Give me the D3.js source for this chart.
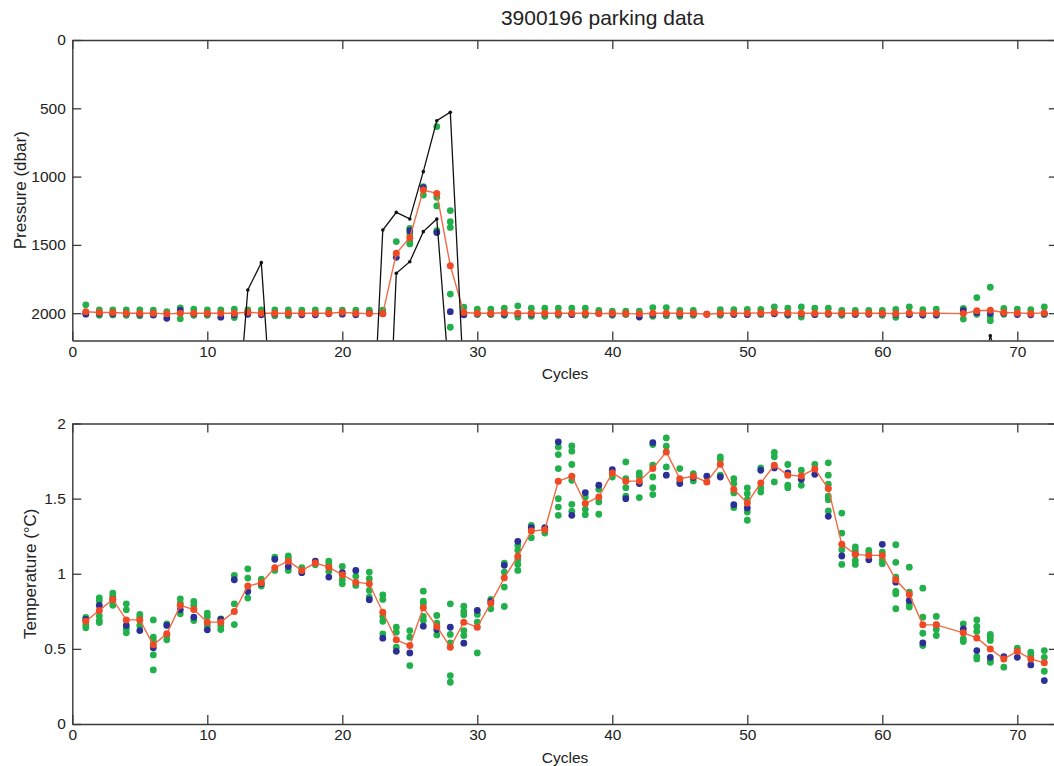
<!DOCTYPE html>
<html>
<head>
<meta charset="utf-8">
<script src="https://cdn.jsdelivr.net/npm/d3@7"></script>
<style>
  html, body { margin: 0; padding: 0; background: #fff; }
  svg { display: block; font-family: "Liberation Sans", Arial, Helvetica, sans-serif; }
  .tick text { fill: #222; }
</style>
</head>
<body>
<svg id="chart" width="1054" height="766"></svg>
<script>
// Profiling float 3900196: parking pressure and temperature per cycle
const cycles = [1,2,3,4,5,6,7,8,9,10,11,12,13,14,15,16,17,18,19,20,21,22,23,24,25,26,27,28,29,30,
  31,32,33,34,35,36,37,38,39,40,41,42,43,44,45,46,47,48,49,50,51,52,53,54,55,56,57,58,59,60,
  61,62,63,64,66,67,68,69,70,71,72];

// Pressure (dbar): mean (red), reference sample (blue), other samples (green)
const presMean = [1990,1995,1995,2000,2000,2000,2005,2000,2000,2000,2000,2000,1993,2000,2000,2000,2000,2000,2000,1993,
  2000,2003,2003,1562,1447,1098,1123,1652,1995,2000,2000,1997,
  2000,2000,2000,2000,2000,2000,2003,2000,2003,2005,2000,2000,2000,2000,2008,2000,2000,2000,1998,1995,1998,2000,2000,2000,
  2000,2000,2000,2000,2003,1998,2000,2000,
  2003,1982,1979,1995,1998,2002,1998];
const presFirst = [2007,2003,2005,2005,2008,2013,2037,1980,2005,2005,2029,2012,2008,2012,2005,2005,2012,2012,2005,2007,
  2012,2000,2005,1591,1396,1081,1410,1989,2012,2005,2005,2008,
  2005,2008,2005,2005,2010,2005,2003,2008,2005,2028,2010,2005,2008,2005,2008,2005,2008,2010,2003,2005,2008,2005,2010,2005,
  2005,2008,2008,2005,2008,2010,2012,2012,
  1982,1995,2001,2000,2010,2012,2005];
const presOthers = [[1939,2000],[1976,2015],[1976,2013],[1976,2015],[1976,2018],[1978,2013],[1988],[1961,2041],[1971,2015],[1976,2015],
  [1976],[1971,2032],[1976,2000],[1976],[1976,2018],[1976,2018],[1978],[1976,2003],[1978],[1978],
  [1978],[1978],[1978],[1476],[1379,1420,1476,1493],[1074,1135],[634,1152,1215,1396],[1249,1330,1372,1860,2103],[1956,2010],[1971,2010],
  [1971,2010],[1964,2015],[1946,2028],[1964,2023],[1964,2023],[1964,2015],[1964,2010],[1964,2015],[1980],[1985,2015],
  [1985,2010],[1985],[1959,2023],[1959,2018],[1979,2023],[1979,2015],[],[1974,2015],[1974,2010],[1972,2010],
  [1972,2010],[1954,2000],[1964,2015],[1954,2028],[1964,2010],[1964,2010],[1979,2015],[1979,2010],[1979],[1979,2015],
  [1973,2030],[1954,2010],[1974,2015],[1970,2015],
  [1965,2043],[1886,2008],[1810,2025,2055],[1965,2008],[1970],[1975],[1954,2010]];

// Pressure envelope (black): shallowest and deepest parking pressure
const envTopCycles = [12,13,14,15,22,23,24,25,26,27,28,29,67,68,69];
const envTopPres   = [3060,1830,1630,3060,3410,1391,1262,1310,964,591,529,2520,2600,2165,2500];
const envBotCycles = [23,24,25,26,27,28];
const envBotPres   = [3950,1708,1623,1403,1310,2580];

// Temperature (°C)
const tempMean = [0.684,0.756,0.829,0.693,0.693,0.527,0.600,0.789,0.762,0.678,0.678,0.749,0.918,0.940,1.040,1.084,1.022,1.071,1.044,0.993,
  0.944,0.933,0.744,0.560,0.522,0.773,0.649,0.511,0.678,0.644,0.804,0.973,1.116,1.284,1.293,1.616,1.649,1.467,1.511,1.671,
  1.616,1.618,1.700,1.811,1.633,1.649,1.611,1.729,1.560,1.471,1.604,1.722,1.656,1.651,1.698,1.567,1.196,1.129,1.122,1.122,
  0.960,0.862,0.660,0.660,
  0.607,0.573,0.500,0.433,0.484,0.433,0.407];
const tempFirst = [0.696,0.789,0.830,0.656,0.622,0.507,0.656,0.760,0.711,0.627,0.696,0.960,0.882,0.933,1.096,1.049,1.007,1.084,0.978,1.007,
  1.022,0.827,0.571,0.484,0.473,0.651,0.629,0.644,0.538,0.756,0.816,1.056,1.216,1.307,1.307,1.878,1.389,1.540,1.589,1.693,
  1.500,1.600,1.873,1.656,1.600,1.640,1.649,1.644,1.460,1.438,1.689,1.704,1.671,1.629,1.662,1.382,1.118,1.130,1.093,1.196,
  0.944,0.822,0.540,0.660,
  0.633,0.489,0.444,0.449,0.444,0.393,0.289];
const tempOthers = [[0.71,0.66,0.64],[0.84,0.82,0.72,0.69,0.675],[0.871,0.85,0.81,0.79],[0.80,0.76,0.633,0.607],[0.729,0.711,0.656],
  [0.693,0.578,0.556,0.46,0.36],[0.667,0.589,0.56],[0.833,0.804,0.733],[0.816,0.789,0.689],[0.738,0.716,0.656],
  [0.70,0.656,0.629],[0.989,0.80,0.662],[1.033,0.971,0.838],[0.964,0.918],[1.111,1.022],
  [1.118,1.10,1.022],[1.04],[1.06],[1.084,1.062,1.016],[1.049,0.96,0.933],
  [0.984,0.922],[1.011,0.967,0.889,0.844],[0.86,0.829,0.716,0.684,0.60],[0.644,0.611,0.511],[0.622,0.578,0.389],
  [0.884,0.818,0.80,0.716,0.689],[0.722,0.671,0.593],[0.80,0.596,0.54,0.322,0.278],[0.784,0.749,0.727,0.622,0.589],[0.729,0.678,0.473],
  [0.829,0.767],[1.071,1.011,0.911,0.782],[1.189,1.156,1.093,1.062,1.022],[1.322,1.24],[1.271],
  [1.844,1.793,1.70,1.50,1.444,1.389],[1.851,1.816,1.727,1.622,1.462,1.416],[1.511,1.429,1.393],[1.562,1.478,1.396],[1.644],
  [1.744,1.633,1.573,1.516],[1.671,1.649,1.507],[1.86,1.722,1.644,1.573,1.527],[1.904,1.849,1.711],[1.70,1.618],
  [1.667,1.618],[],[1.778,1.76,1.656],[1.633,1.60,1.538,1.44],[1.571,1.533,1.493,1.411,1.356],
  [1.704,1.573,1.544],[1.807,1.778,1.611],[1.727,1.589,1.573],[1.689,1.589],[1.727],
  [1.738,1.656,1.596,1.516,1.493,1.418],[1.404,1.271,1.16,1.062],[1.178,1.156,1.089,1.062],[1.156,1.138],[1.144,1.093,1.067],
  [1.193,1.076,0.978,0.882,0.867,0.767],[1.044,0.878,0.796,0.778],[0.904,0.711,0.604,0.522],[0.716,0.629,0.589],
  [0.667,0.567,0.549],[0.693,0.649,0.616,0.449,0.433],[0.596,0.578,0.556,0.422,0.411],[0.378],[0.504],[0.478,0.456],[0.489,0.444,0.351]];

const xTicks = [0,10,20,30,40,50,60,70];
const presTicks = [0,500,1000,1500,2000];
const tempTicks = [0,0.5,1,1.5,2];

const COL_OTHER = "#22b04b", COL_FIRST = "#2b2f96", COL_MEAN = "#f04a24",
      COL_LINE = "#f36a45", COL_AXIS = "#3a3a3a";

const svg = d3.select("#chart");
const X0 = 72.3, X1 = 1057.8;
const x = d3.scaleLinear().domain([0, 73]).range([X0, X1]);

const panels = [
  { id: "p", y: d3.scaleLinear().domain([0, 2200]).range([40, 340.5]), ticks: presTicks,
    fmt: d3.format("d"), label: "Pressure (dbar)", labelX: 20,
    mean: presMean, first: presFirst, others: presOthers },
  { id: "t", y: d3.scaleLinear().domain([0, 2]).range([724, 423.5]), ticks: tempTicks,
    fmt: d => d3.format("")(d), label: "Temperature (°C)", labelX: 30,
    mean: tempMean, first: tempFirst, others: tempOthers }
];

panels.forEach(P => {
  const yTop = d3.min(P.y.range()), yBot = d3.max(P.y.range());
  const g = svg.append("g");

  g.append("clipPath").attr("id", "clip-" + P.id)
    .append("rect").attr("x", X0).attr("y", yTop).attr("width", X1 - X0).attr("height", yBot - yTop);

  const plot = g.append("g").attr("clip-path", `url(#clip-${P.id})`);

  // other samples
  const pts = [];
  cycles.forEach((c, i) => P.others[i].forEach(v => pts.push([c, v])));
  plot.append("g").selectAll("circle").data(pts).join("circle")
    .attr("cx", d => x(d[0])).attr("cy", d => P.y(d[1])).attr("r", 3.4).attr("fill", COL_OTHER);

  // reference sample
  plot.append("g").selectAll("circle").data(cycles).join("circle")
    .attr("cx", c => x(c)).attr("cy", (c, i) => P.y(P.first[i])).attr("r", 3.4).attr("fill", COL_FIRST);

  // mean line and markers
  plot.append("path")
    .datum(cycles.map((c, i) => [c, P.mean[i]]))
    .attr("fill", "none").attr("stroke", COL_LINE).attr("stroke-width", 1.4)
    .attr("d", d3.line().x(d => x(d[0])).y(d => P.y(d[1])));
  plot.append("g").selectAll("circle").data(cycles).join("circle")
    .attr("cx", c => x(c)).attr("cy", (c, i) => P.y(P.mean[i])).attr("r", 3.5).attr("fill", COL_MEAN);

  if (P.id === "p") {
    [[envTopCycles, envTopPres], [envBotCycles, envBotPres]].forEach(([cs, ps]) => {
      const data = cs.map((c, i) => [c, ps[i]]);
      plot.append("path").datum(data)
        .attr("fill", "none").attr("stroke", "#111").attr("stroke-width", 1.3)
        .attr("d", d3.line().x(d => x(d[0])).y(d => P.y(d[1])));
      plot.append("g").selectAll("circle").data(data).join("circle")
        .attr("cx", d => x(d[0])).attr("cy", d => P.y(d[1])).attr("r", 1.8).attr("fill", "#111");
    });
  }

  // axes box with inward ticks
  const axB = d3.axisBottom(x).tickValues(xTicks).tickSizeInner(-9).tickSizeOuter(0).tickPadding(5).tickFormat(d3.format("d"));
  const axT = d3.axisTop(x).tickValues(xTicks).tickSizeInner(-9).tickSizeOuter(0).tickFormat("");
  const axL = d3.axisLeft(P.y).tickValues(P.ticks).tickSizeInner(-9).tickSizeOuter(0).tickPadding(6.5).tickFormat(P.fmt);
  const axR = d3.axisRight(P.y).tickValues(P.ticks).tickSizeInner(-9).tickSizeOuter(0).tickFormat("");

  const style = sel => {
    sel.selectAll(".domain").attr("stroke", COL_AXIS).attr("stroke-width", 1.4);
    sel.selectAll(".tick line").attr("stroke", COL_AXIS).attr("stroke-width", 1.3);
    sel.selectAll(".tick text").attr("font-size", 15.5).attr("fill", "#222");
  };
  g.append("g").attr("transform", `translate(0,${yBot})`).call(axB).call(style);
  g.append("g").attr("transform", `translate(0,${yTop})`).call(axT).call(style);
  g.append("g").attr("transform", `translate(${X0},0)`).call(axL).call(style);
  g.append("g").attr("transform", `translate(${X1},0)`).call(axR).call(style);

  g.append("text").attr("x", (X0 + X1) / 2).attr("y", yBot + 38.5)
    .attr("text-anchor", "middle").attr("font-size", 15.5).attr("fill", "#222").text("Cycles");
  g.append("text")
    .attr("transform", `translate(${P.labelX},${(yTop + yBot) / 2}) rotate(-90)`)
    .attr("text-anchor", "middle").attr("dy", "0.35em")
    .attr("font-size", 17).attr("fill", "#222").text(P.label);
});

svg.append("text").attr("x", 602.5).attr("y", 25).attr("text-anchor", "middle")
  .attr("font-size", 21).attr("fill", "#222").text("3900196 parking data");
</script>
</body>
</html>
